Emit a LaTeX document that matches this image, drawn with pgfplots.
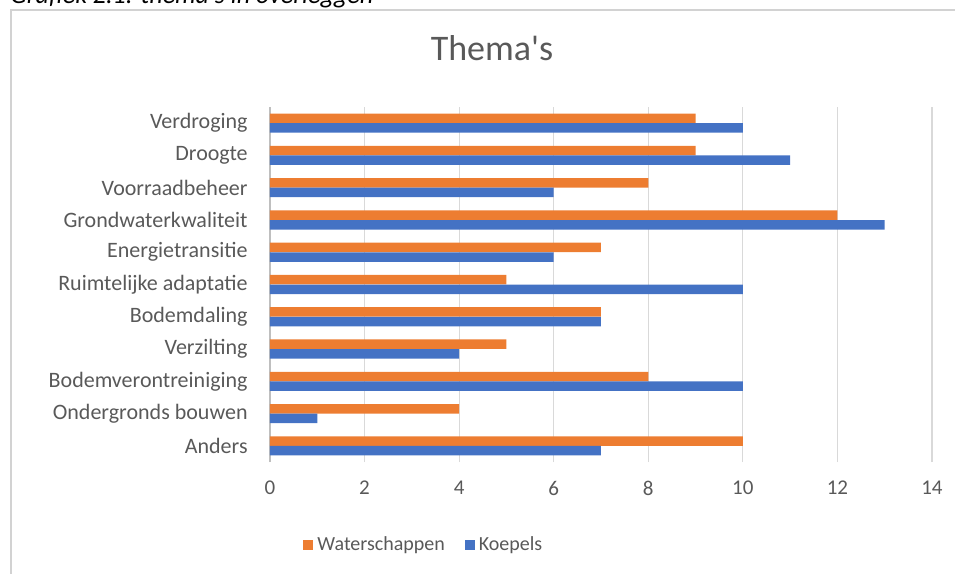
\documentclass[border=0pt]{standalone}
\usepackage{fontspec}
\setmainfont{Carlito}
\usepackage{pgfplots}
\pgfplotsset{compat=1.18}
\definecolor{wsorange}{HTML}{ED7D31}
\definecolor{kpblue}{HTML}{4472C4}
\definecolor{txtgray}{HTML}{595959}
\definecolor{gridgray}{HTML}{D9D9D9}
\begin{document}
\begin{tikzpicture}
\useasboundingbox (-135pt,-56pt) rectangle (342.5pt,231pt);
% chart frame and caption above it
\draw[gray!35, line width=0.6pt] (-129.5pt,-80pt) -- (-129.5pt,226pt) -- (360pt,226pt);
\node[anchor=base west, inner sep=0pt, font=\fontsize{13pt}{15pt}\selectfont\itshape] at (-130pt,229.3pt) {Grafiek 2.1: thema\textquotesingle s in overleggen};
\node[anchor=base, inner sep=0pt, text=txtgray, font=\fontsize{18pt}{21pt}\selectfont] at (111pt,200.5pt) {Thema\textquotesingle s};
\begin{axis}[
    at={(0pt,0pt)}, anchor=south west,
    scale only axis,
    width=331pt, height=177.5pt,
    xbar, bar width=4.75pt,
    xmin=0, xmax=14, ymin=-0.5, ymax=10.5,
    xtick={0,2,...,14},
    ytick={0,...,10},
    yticklabels={Anders,Ondergronds bouwen\hspace{3pt},Bodemverontreiniging,Verzilting,Bodemdaling,Ruimtelijke adaptatie,Energietransitie,Grondwaterkwaliteit,Voorraadbeheer,Droogte,Verdroging},
    axis x line*=bottom, axis y line*=left,
    x axis line style={draw=none},
    y axis line style={draw=gray!50, line width=0.6pt},
    xmajorgrids, major grid style={gridgray, line width=0.6pt},
    major tick length=0pt,
    /pgf/number format/assume math mode=true,
    xticklabel style={text=txtgray, font=\fontsize{10.5pt}{12pt}\selectfont, yshift=-6pt},
    yticklabel style={text=txtgray, font=\fontsize{11pt}{13pt}\selectfont, anchor=east, inner xsep=0pt, xshift=-11pt},
    legend columns=2,
    legend style={at={(0.234,-0.234)}, anchor=center, draw=none, fill=none,
        font=\fontsize{10pt}{12pt}\selectfont, text=txtgray,
        /tikz/every even column/.append style={column sep=8pt}},
    legend image code/.code={\fill[#1] (0pt,-2.5pt) rectangle (5pt,2.5pt);},
]
\addplot[fill=wsorange, draw=none, bar shift=2.4pt] coordinates {
    (10,0) (4,1) (8,2) (5,3) (7,4) (5,5) (7,6) (12,7) (8,8) (9,9) (9,10)};
\addplot[fill=kpblue, draw=none, bar shift=-2.4pt] coordinates {
    (7,0) (1,1) (10,2) (4,3) (7,4) (10,5) (6,6) (13,7) (6,8) (11,9) (10,10)};
\legend{Waterschappen,Koepels}
\end{axis}
\end{tikzpicture}
\end{document}
